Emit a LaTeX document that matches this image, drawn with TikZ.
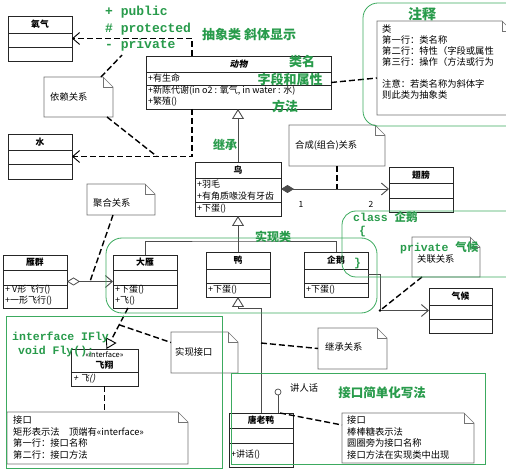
\documentclass[tikz,border=0pt]{standalone}
\usepackage{fontspec}
\setmainfont{Noto Sans CJK SC}
\newfontfamily\slantfont{Noto Sans CJK SC}[FakeSlant=0.2]
\newfontfamily\gmono{Liberation Mono}
\usetikzlibrary{arrows.meta,calc}
\definecolor{gtext}{RGB}{40,155,75}
\definecolor{gline}{RGB}{60,170,95}
\tikzset{
 clsbox/.style={draw=black!85, line width=0.8pt, fill=white, anchor=north west, inner sep=0pt, outer sep=0pt},
 clsline/.style={draw=black!85, line width=0.8pt},
 clstitle/.style={font=\bfseries\fontsize{8.8}{10}\selectfont, inner sep=0pt},
 member/.style={anchor=west, font=\fontsize{9}{10}\selectfont, inner sep=0pt},
 notebg/.style={fill=white, anchor=north west, inner sep=0pt, outer sep=0pt},
 noteline/.style={draw=black!55, line width=0.6pt},
 notetxt/.style={anchor=west, font=\fontsize{9.3}{11}\selectfont, inner sep=0pt},
 dashc/.style={draw=black, line width=1.4pt, dash pattern=on 6pt off 3pt},
 solidc/.style={draw=black!70, line width=0.7pt},
 openhead/.style={-{Straight Barb[length=7pt,width=12pt,line width=0.9pt]}},
 inhhead/.style={-{Triangle[open,length=10pt,width=12pt,fill=white,line width=0.9pt]}},
 greg/.style={draw=gline, line width=0.8pt},
 glabel/.style={text=gtext, font=\bfseries\fontsize{13}{15}\selectfont, inner sep=0pt},
 gmonolabel/.style={text=gtext, font=\gmono\bfseries\fontsize{13}{15}\selectfont, inner sep=0pt, anchor=west},
 gsmall/.style={text=gtext, font=\bfseries\fontsize{11.5}{13}\selectfont, inner sep=0pt, anchor=west},
}
\newcommand\umlclass[8]{%
 \node[clsbox, minimum width={#4-#2}, minimum height={#5-#3}] (#1) at (#2,#3) {};
 \draw[clsline] (#2,#6) -- (#4,#6);
 \draw[clsline] (#2,#7) -- (#4,#7);
 \node[clstitle] (#1-name) at ({(#2+#4)/2},{(#3+#6)/2}) {#8};
}
\newcommand\umlnote[5]{%
 \node[notebg, minimum width={#4-#2}, minimum height={#5-#3}] (#1) at (#2,#3) {};
 \draw[noteline] (#1.south west) -- (#1.north west) -- ([xshift=-10pt]#1.north east) -- ([yshift=-10pt]#1.north east) -- (#1.south east) -- cycle;
 \draw[noteline] ([xshift=-10pt]#1.north east) |- ([yshift=-10pt]#1.north east);
}
\begin{document}
\begin{tikzpicture}[x=1pt,y=-1pt]
\useasboundingbox (0,0) rectangle (506,470);
\fill[white] (0,0) rectangle (506,470);

% ---------- classes ----------
\umlclass{yq}{8}{16}{72}{61}{33}{47}{氧气}
\umlclass{shui}{8}{134}{72}{179}{150}{164}{水}
\umlclass{dw}{146}{56}{331}{109}{72}{85}{\slantfont\bfseries 动物}
\node[member] (dw-a1) at (148,78.5) {+有生命};
\node[member] (dw-m1) at (148,91) {+新陈代谢(in o2 : 氧气, in water : 水)};
\node[member] (dw-m2) at (148,102) {+繁殖()};
\umlclass{niao}{195}{162}{281}{216}{178}{202}{鸟}
\node[member] (niao-a1) at (197,184) {+羽毛};
\node[member] (niao-a2) at (197,196) {+有角质喙没有牙齿};
\node[member] (niao-m1) at (197,209) {+下蛋()};
\umlclass{cb}{389}{167}{453}{212}{183}{198}{翅膀}
\umlclass{yqun}{3}{255}{67}{308}{270}{285}{雁群}
\node[member] (yqun-m1) at (5,290) {+ V形飞行()};
\node[member] (yqun-m2) at (5,301) {+一形飞行()};
\umlclass{dy}{113}{255}{177}{308}{270}{285}{大雁}
\node[member] (dy-m1) at (115,290) {+下蛋()};
\node[member] (dy-m2) at (115,301) {+飞()};
\umlclass{ya}{206}{252}{270}{297}{269}{283}{鸭}
\node[member] (ya-m1) at (208,290) {+下蛋()};
\umlclass{qe}{304}{252}{368}{297}{269}{283}{企鹅}
\node[member] (qe-m1) at (306,290) {+下蛋()};
\umlclass{qh}{429}{288}{492}{333}{305}{319}{气候}
\umlclass{tly}{229}{413}{293}{467}{428}{443}{唐老鸭}
\node[member] (tly-m1) at (231,455) {+讲话()};
% interface box
\node[clsbox, minimum width=67, minimum height=37] (fx) at (71,349) {};
\draw[clsline] (71,372) -- (138,372);
\node[inner sep=0pt, font=\fontsize{7.5}{9}\selectfont] (fx-st) at (104.5,355) {<<interface>>};
\node[clstitle] (fx-name) at (104.5,365.5) {飞翔};
\node[member, font=\slantfont\fontsize{9}{10}\selectfont] (fx-m1) at (73,379) {+ 飞()};

% ---------- notes ----------
\umlnote{n1}{44}{77}{113}{117}
\node[notetxt] (n1-t) at (50,97) {依赖关系};
\umlnote{n2}{377}{21}{512}{115}
\foreach \t [count=\i] in {类, 第一行：类名称, 第二行：特性（字段或属性, 第三行：操作（方法或行为}
  \node[notetxt] (n2-a\i) at (382,{29+11*(\i-1)}) {\t};
\node[notetxt] (n2-b1) at (382,84) {注意：若类名称为斜体字};
\node[notetxt] (n2-b2) at (382,95) {则此类为抽象类};
\umlnote{n3}{289}{125}{385}{166}
\node[notetxt] (n3-t) at (295,145) {合成(组合)关系};
\umlnote{n4}{87}{184}{155}{215}
\node[notetxt] (n4-t) at (93,203) {聚合关系};
\umlnote{n5}{412}{237}{480}{277}
\node[notetxt] (n5-t) at (417,259) {关联关系};
\umlnote{n6}{171}{332}{238}{373}
\node[notetxt] (n6-t) at (175,352) {实现接口};
\umlnote{n7}{7}{412}{188}{464}
\foreach \t [count=\i] in {接口, 矩形表示法　顶端有<<interface>>, 第一行：接口名称, 第二行：接口方法}
  \node[notetxt] (n7-\i) at (13,{420+11.7*(\i-1)}) {\t};
\umlnote{n8}{318}{328}{387}{369}
\node[notetxt] (n8-t) at (325,347) {继承关系};
\umlnote{n9}{342}{413}{474}{463}
\foreach \t [count=\i] in {接口, 棒棒糖表示法, 圆圈旁为接口名称, 接口方法在实现类中出现}
  \node[notetxt] (n9-\i) at (347,{420+11.7*(\i-1)}) {\t};

% ---------- connectors ----------
\draw[dashc, openhead] ([xshift=46pt]dw.north west) |- (yq.east);
\draw[dashc, openhead] ([xshift=46pt]dw.south west) |- (shui.east);
\coordinate (d1) at (122,55);
\coordinate (d2) at (157,156.5);
\draw[dashc] ([xshift=-12pt]n1.north east) -- (d1);
\draw[dashc] ([xshift=-6pt]n1.south east) -- (d2);
\draw[dashc] (dw.east) -- ([yshift=-10pt]n2.west);

\draw[solidc, inhhead] (niao.north) -- (niao.north |- dw.south);

\draw[solidc, {Diamond[length=13pt,width=8pt]}-{Straight Barb[length=7pt,width=12pt,line width=0.9pt]}] (niao.east) -- (niao.east -| cb.west);
\node[inner sep=0pt, font=\fontsize{8.5}{10}\selectfont] (lab1) at (301,204) {1};
\node[inner sep=0pt, font=\fontsize{8.5}{10}\selectfont] (lab2) at (371,204) {2};
\coordinate (c3) at (337,189);
\draw[dashc] (n3.south) -- (c3);

\draw[solidc, inhhead] (ya.north) -- (niao.south);
\coordinate (tj) at (238,241);
\draw[solidc] (dy.north) |- (tj) -| (qe.north);

\draw[solidc, {Diamond[open,fill=white,length=13pt,width=8pt,line width=0.8pt]}-{Straight Barb[length=7pt,width=12pt,line width=0.9pt]}] (yqun.east) -- (dy.west);
\coordinate (c4) at (90,281.5);
\draw[dashc] ([xshift=-8pt]n4.south) -- (c4);

\coordinate (ac) at (380,310.5);
\draw[solidc, openhead] (qe.east) -| (ac) -- (qh.west);
\fill (ac) circle (1.3);
\draw[dashc] ([xshift=-24pt]n5.south) -- (ac);

\draw[dashc, inhhead] ([xshift=-17pt]dy.south) -- ([xshift=2pt]fx.north);
\coordinate (c6) at ($([xshift=-17pt]dy.south)!0.41!([xshift=2pt]fx.north)$);
\draw[dashc] (c6) -- ([yshift=10pt]n6.west);
\draw[dashc] (fx.south) -- (fx.south |- n7.north);

\coordinate (ty) at (238,308);
\draw[solidc, inhhead] (tly.north) |- (ty) -- (ya.south);
\coordinate (tc) at (261,343);
\draw[dashc] (tc) -- (n8.west);

\node[circle, draw=black!70, line width=0.7pt, fill=white, minimum size=6pt, inner sep=0pt] (lp) at (278,392) {};
\draw[solidc] (lp) -- (lp |- tly.north);
\node[notetxt] (lpname) at (290,388) {讲人话};
\draw[dashc] ([xshift=-13pt]tly.north east) -- ([yshift=13pt]n9.west);

% ---------- green overlay ----------
\draw[greg, rounded corners=15pt] (363,3) rectangle (530,126);
\draw[greg, rounded corners=16pt] (106,238) rectangle (377,313);
\draw[greg, rounded corners=14pt] (342,211) rectangle (530,277);
\draw[greg] (6,316) rectangle (222,468);
\draw[greg] (231,373) rectangle (485,464);

\node[gmonolabel] (pub) at (105,12) {+ public};
\node[gmonolabel] (pro) at (105,29) {\# protected};
\node[gmonolabel] (pri) at (105,45) {- private};
\node[glabel, anchor=west] (abs) at (202,35) {抽象类 斜体显示};
\node[glabel] (lm) at (302,62) {类名};
\node[glabel] (zd) at (290,79) {字段和属性};
\node[glabel] (ff) at (285,106) {方法};
\node[glabel, font=\bfseries\fontsize{14}{16}\selectfont] (zs) at (422,14) {注释};
\node[glabel, font=\bfseries\fontsize{12}{14}\selectfont] (jc) at (225,145) {继承};
\node[glabel, font=\bfseries\fontsize{12}{14}\selectfont] (sxl) at (273,237) {实现类};
\node[gsmall] (cq) at (353,217) {{\gmono class }企鹅};
\node[gsmall] (lb) at (359,232) {\gmono\{};
\node[gsmall] (pq) at (400,248) {{\gmono private }气候};
\node[gsmall] (rb) at (354,264) {\gmono\}};
\node[gsmall] (ifl) at (12,337) {\gmono interface IFly};
\node[gsmall] (vf) at (18,352) {\gmono void Fly();};
\node[glabel, font=\bfseries\fontsize{12.5}{14}\selectfont] (jkj) at (382,393) {接口简单化写法};
\end{tikzpicture}
\end{document}
